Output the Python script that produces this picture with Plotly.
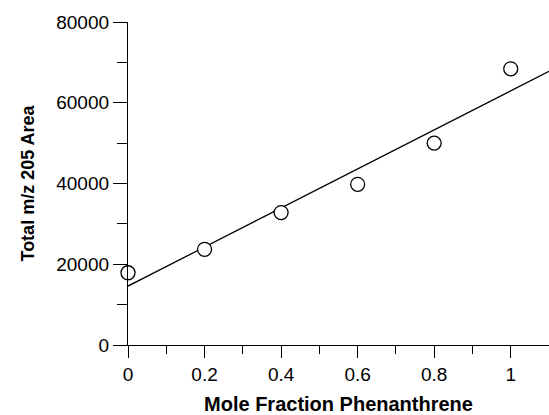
import numpy as np
import plotly.graph_objects as go

mole_fraction = [0.0, 0.2, 0.4, 0.6, 0.8, 1.0]
total_area = [17900, 23700, 32800, 39800, 50000, 68400]

x_title = "Mole Fraction Phenanthrene"
y_title = "Total m/z 205 Area"

# least-squares fit line drawn over full x range
slope, intercept = np.polyfit(mole_fraction, total_area, 1)
fit_x = [0.0, 1.1]
fit_y = [intercept + slope * v for v in fit_x]

fig = go.Figure()
fig.add_trace(go.Scatter(x=fit_x, y=fit_y, mode="lines",
                         line=dict(color="black", width=1.3), showlegend=False))
fig.add_trace(go.Scatter(x=mole_fraction, y=total_area, mode="markers",
                         marker=dict(symbol="circle", size=14, color="white",
                                     line=dict(color="black", width=1.3)),
                         cliponaxis=False, showlegend=False))

font_family = "Liberation Sans, Arial, sans-serif"
fig.update_layout(
    width=549, height=415,
    margin=dict(l=128, r=0, t=22, b=70),
    paper_bgcolor="white", plot_bgcolor="white",
    font=dict(family=font_family, color="black", size=19),
)
fig.update_xaxes(
    range=[0, 1.1], tickvals=[0, 0.2, 0.4, 0.6, 0.8, 1.0],
    ticktext=["0", "0.2", "0.4", "0.6", "0.8", "1"],
    showgrid=False, zeroline=False, showline=True, linecolor="black", linewidth=1.3,
    ticks="outside", ticklen=12, tickwidth=1.3, tickcolor="black",
    minor=dict(tickvals=[0.1, 0.3, 0.5, 0.7, 0.9], ticks="outside", ticklen=8,
               tickwidth=1.3, tickcolor="black", showgrid=False),
    tickfont=dict(size=19),
    title=dict(text="<b>" + x_title + "</b>", font=dict(size=20), standoff=13),
)
fig.update_yaxes(
    range=[0, 80000], tickvals=[0, 20000, 40000, 60000, 80000],
    ticktext=["0", "20000", "40000", "60000", "80000"],
    showgrid=False, zeroline=False, showline=True, linecolor="black", linewidth=1.3,
    ticks="outside", ticklen=14, tickwidth=1.3, tickcolor="black",
    minor=dict(tickvals=[10000, 30000, 50000, 70000], ticks="outside", ticklen=10,
               tickwidth=1.3, tickcolor="black", showgrid=False),
    tickfont=dict(size=19),
    title=dict(text="<b>" + y_title + "</b>", font=dict(size=18), standoff=16),
)

fig.write_html("out.html")
